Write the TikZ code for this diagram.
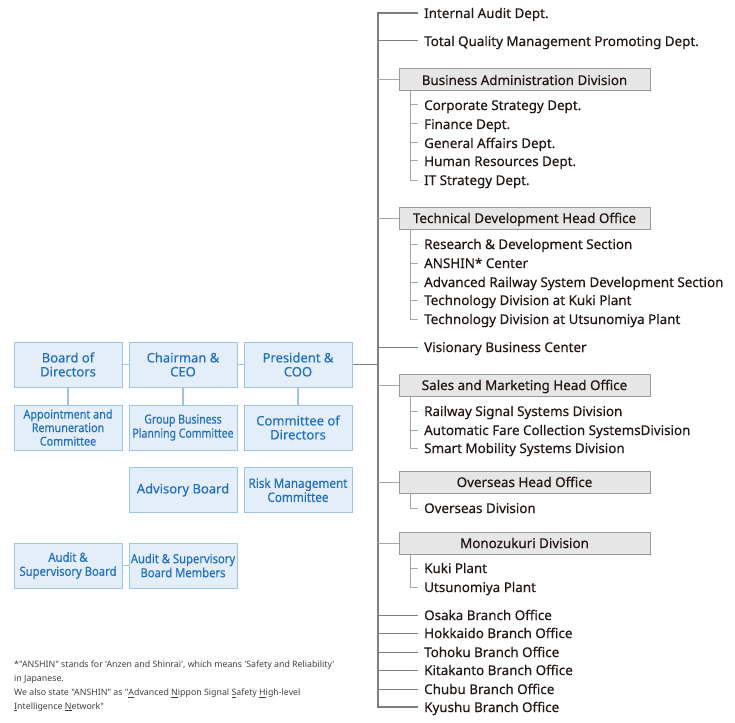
\documentclass[tikz,border=0pt]{standalone}
\usepackage{fontspec}
\setmainfont{Noto Sans}[Ligatures=TeXOff]
\newfontfamily\orgfont{Noto Sans}[Ligatures=TeXOff,FakeBold=0.4]
\newfontfamily\slimfont{Noto Sans}[Ligatures=TeXOff,FakeBold=0.4,FakeStretch=0.9]
\newfontfamily\narrowfont{Noto Sans}[Ligatures=TeXOff,FakeBold=0.4,FakeStretch=0.84]
\usetikzlibrary{positioning}
\definecolor{orgInk}{HTML}{231815}
\definecolor{orgBlue}{HTML}{2270BE}
\definecolor{orgBlueFill}{HTML}{E3EEF9}
\definecolor{orgBlueLine}{HTML}{9DC3E6}
\definecolor{orgGray}{HTML}{7F7F7F}
\definecolor{orgLight}{HTML}{A6A6A6}
\definecolor{orgBoxFill}{HTML}{E7E6E6}
\definecolor{orgBoxLine}{HTML}{9A9A9A}
\definecolor{orgNote}{HTML}{404040}
\tikzset{
  every picture/.style={text=orgInk},
  exec box/.style={draw=orgBlueLine, fill=orgBlueFill, line width=1pt,
    text=orgBlue, align=center, minimum width=108, minimum height=45,
    inner sep=1pt, font=\orgfont\fontsize{13}{14}\selectfont},
  head box/.style={draw=orgBoxLine, fill=orgBoxFill, line width=1pt,
    minimum width=251, minimum height=22, inner sep=0pt, text height=10,
    text depth=0, font=\orgfont\fontsize{13.4}{14}\selectfont},
  dept/.style={anchor=west, inner xsep=6, inner ysep=0, text height=13,
    text depth=3, font=\orgfont\fontsize{13.4}{14}\selectfont},
  exec link/.style={draw=orgBlueLine, line width=1.2pt},
  spine line/.style={draw=orgGray, line width=1.2pt},
  branch/.style={draw=orgGray, line width=1pt},
  twig/.style={draw=orgLight, line width=1pt}
}

\begin{document}
\begin{tikzpicture}[x=1pt,y=-1pt]
  \useasboundingbox (0,0) rectangle (735,722);
  \coordinate (spine) at (378,0);

  % management
  \node[exec box] (board) at (68,364.5) {Board of\\Directors};
  \node[exec box] (chair) at (183,364.5) {Chairman \&\\CEO};
  \node[exec box] (pres) at (298,364.5) {President \&\\COO};
  \node[exec box, font=\slimfont\fontsize{12}{13.5}\selectfont] (appoint) at (68,427.5) {Appointment and\\Remuneration\\Committee};
  \node[exec box, font=\narrowfont\fontsize{12.5}{14}\selectfont] (group) at (183,427.5) {Group Business\\Planning Committee};
  \node[exec box] (cod) at (298,427.5) {Committee of\\Directors};
  \node[exec box] (advisory) at (183,490) {Advisory Board};
  \node[exec box, font=\slimfont\fontsize{13}{14}\selectfont] (risk) at (298,490) {Risk Management\\Committee};
  \node[exec box, font=\slimfont\fontsize{12.5}{14}\selectfont] (asb) at (68,565.5) {Audit \&\\Supervisory Board};
  \node[exec box, font=\slimfont\fontsize{12.5}{14}\selectfont] (asbm) at (183,565.5) {Audit \& Supervisory\\Board Members};
  \draw[exec link] (board) -- (chair);
  \draw[exec link] (chair) -- (pres);
  \draw[exec link] (board) -- (appoint);
  \draw[exec link] (chair) -- (group);
  \draw[exec link] (pres) -- (cod);
  \draw[exec link] (asb) -- (asbm);
  \draw[branch] (pres) -- (pres -| spine);

  % departments
  \node[dept] (ia) at (418,13) {Internal Audit Dept.};
  \node[dept] (tqm) at (418,41) {Total Quality Management Promoting Dept.};
  \node[head box] (bad) at (524.5,80) {Business Administration Division};
  \node[dept] (cs) at (418,105) {Corporate Strategy Dept.};
  \node[dept] (fin) at (418,124) {Finance Dept.};
  \node[dept] (ga) at (418,143) {General Affairs Dept.};
  \node[dept] (hr) at (418,161) {Human Resources Dept.};
  \node[dept] (its) at (418,180) {IT Strategy Dept.};
  \node[head box] (tdh) at (524.5,218) {Technical Development Head Office};
  \node[dept] (rd) at (418,244) {Research \& Development Section};
  \node[dept] (anshin) at (418,263) {ANSHIN* Center};
  \node[dept] (ars) at (418,282) {Advanced Railway System Development Section};
  \node[dept] (tku) at (418,300) {Technology Division at Kuki Plant};
  \node[dept] (tut) at (418,319) {Technology Division at Utsunomiya Plant};
  \node[dept] (vbc) at (418,347) {Visionary Business Center};
  \node[head box] (smh) at (524.5,385) {Sales and Marketing Head Office};
  \node[dept] (rss) at (418,411) {Railway Signal Systems Division};
  \node[dept] (afc) at (418,430) {Automatic Fare Collection SystemsDivision};
  \node[dept] (sms) at (418,448) {Smart Mobility Systems Division};
  \node[head box] (ovh) at (524.5,482) {Overseas Head Office};
  \node[dept] (ovd) at (418,508) {Overseas Division};
  \node[head box] (mono) at (524.5,543) {Monozukuri Division};
  \node[dept] (kuki) at (418,568) {Kuki Plant};
  \node[dept] (utsu) at (418,587) {Utsunomiya Plant};
  \node[dept] (osaka) at (418,615) {Osaka Branch Office};
  \node[dept] (hokkaido) at (418,633) {Hokkaido Branch Office};
  \node[dept] (tohoku) at (418,652) {Tohoku Branch Office};
  \node[dept] (kitakanto) at (418,670) {Kitakanto Branch Office};
  \node[dept] (chubu) at (418,689) {Chubu Branch Office};
  \node[dept] (kyushu) at (418,707) {Kyushu Branch Office};

  % spine and branches
  \draw[spine line] (ia.west) -| (spine |- kyushu.west) -- (kyushu.west);
  \draw[branch] (spine |- tqm.west) -- (tqm.west);
  \draw[twig] (spine |- bad.west) -- (bad.west);
  \draw[twig] (spine |- tdh.west) -- (tdh.west);
  \draw[branch] (spine |- vbc.west) -- (vbc.west);
  \draw[twig] (spine |- smh.west) -- (smh.west);
  \draw[twig] (spine |- ovh.west) -- (ovh.west);
  \draw[twig] (spine |- mono.west) -- (mono.west);
  \draw[branch] (spine |- osaka.west) -- (osaka.west);
  \draw[branch] (spine |- hokkaido.west) -- (hokkaido.west);
  \draw[branch] (spine |- tohoku.west) -- (tohoku.west);
  \draw[branch] (spine |- kitakanto.west) -- (kitakanto.west);
  \draw[branch] (spine |- chubu.west) -- (chubu.west);

  % sub departments
  \coordinate (bad stem) at ([xshift=12]bad.south west);
  \draw[twig] (bad stem) |- (its.west);
  \draw[twig] (bad stem |- cs.west) -- (cs.west);
  \draw[twig] (bad stem |- fin.west) -- (fin.west);
  \draw[twig] (bad stem |- ga.west) -- (ga.west);
  \draw[twig] (bad stem |- hr.west) -- (hr.west);
  \coordinate (tdh stem) at ([xshift=12]tdh.south west);
  \draw[twig] (tdh stem) |- (tut.west);
  \draw[twig] (tdh stem |- rd.west) -- (rd.west);
  \draw[twig] (tdh stem |- anshin.west) -- (anshin.west);
  \draw[twig] (tdh stem |- ars.west) -- (ars.west);
  \draw[twig] (tdh stem |- tku.west) -- (tku.west);
  \coordinate (smh stem) at ([xshift=12]smh.south west);
  \draw[twig] (smh stem) |- (sms.west);
  \draw[twig] (smh stem |- rss.west) -- (rss.west);
  \draw[twig] (smh stem |- afc.west) -- (afc.west);
  \coordinate (ovh stem) at ([xshift=12]ovh.south west);
  \draw[twig] (ovh stem) |- (ovd.west);
  \coordinate (mono stem) at ([xshift=12]mono.south west);
  \draw[twig] (mono stem) |- (utsu.west);
  \draw[twig] (mono stem |- kuki.west) -- (kuki.west);

  % footnote
  \node[anchor=north west, align=left, inner sep=0pt, text=orgNote,
    font=\fontsize{8.8}{13.7}\selectfont] (note) at (14,661)
    {*"ANSHIN" stands for 'Anzen and Shinrai', which means 'Safety and Reliability'\\
     in Japanese.\\
     We also state "ANSHIN" as "\underline{A}dvanced \underline{N}ippon Signal \underline{S}afety \underline{H}igh-level\\
     \underline{I}ntelligence \underline{N}etwork"};
\end{tikzpicture}
\end{document}
